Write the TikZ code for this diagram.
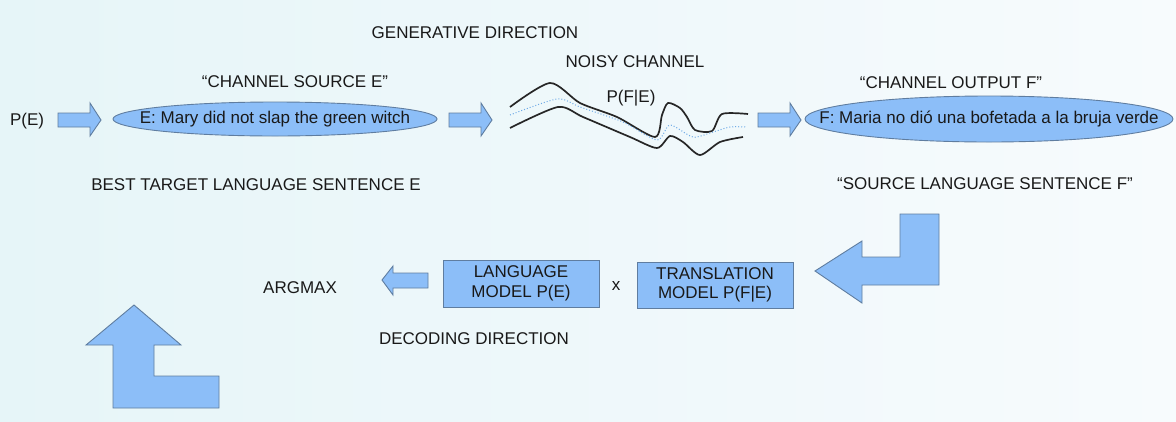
\documentclass[tikz,border=0pt]{standalone}
\usepackage{fontspec}
\setmainfont{Liberation Sans}
\usetikzlibrary{shapes.geometric}
\definecolor{bgl}{RGB}{230,245,248}
\definecolor{bgr}{RGB}{247,251,253}
\definecolor{fillb}{RGB}{140,190,248}
\definecolor{edgeb}{RGB}{95,125,160}
\definecolor{txt}{RGB}{25,25,25}
\definecolor{dotb}{RGB}{110,170,230}
\tikzset{
  lbl/.style={text=txt, font=\fontsize{17}{18}\selectfont, inner sep=0pt},
  blk/.style={fill=fillb, draw=edgeb, line width=0.9pt, line join=miter},
  ell/.style={ellipse, fill=fillb, draw=edgeb, line width=0.9pt, inner sep=0pt},
  boxn/.style={rectangle, fill=fillb, draw=edgeb, line width=0.9pt, inner sep=0pt, align=center, text=txt, font=\fontsize{17}{19.5}\selectfont},
  wave/.style={draw=black!85, line width=1.7pt, smooth, tension=0.45},
  dwave/.style={draw=dotb, line width=1pt, dotted, smooth, tension=0.45}
}
\begin{document}
\begin{tikzpicture}[x=1pt,y=-1pt]
\shade[left color=bgl, right color=bgr] (0,0) rectangle (1176,421);
\useasboundingbox (0,0) rectangle (1176,421);

% top labels
\node[lbl] (gen) at (475,33) {GENERATIVE DIRECTION};
\node[lbl] (noisy) at (635,62) {NOISY CHANNEL};
\node[lbl] (pfe) at (631,98) {P(F|E)};
\node[lbl] (cse) at (295,82) {“CHANNEL SOURCE E”};
\node[lbl] (cof) at (951,83) {“CHANNEL OUTPUT F”};
\node[lbl] (pe) at (27,121) {P(E)};
\node[lbl] (best) at (256,185) {BEST TARGET LANGUAGE SENTENCE E};
\node[lbl] (slsf) at (985,184) {“SOURCE LANGUAGE SENTENCE F”};

% ellipses
\node[ell, minimum width=324pt, minimum height=34pt] (e1) at (275,119) {};
\node[lbl] (e1t) at (e1.center) {E: Mary did not slap the green witch};
\node[ell, minimum width=368pt, minimum height=46pt] (e2) at (989,119) {};
\node[lbl] (e2t) at (e2.center) {F: Maria no dió una bofetada a la bruja verde};

% block arrows (right)
\draw[blk] (58,113) -- (90,113) -- (90,103) -- (101,120) -- (90,136) -- (90,127) -- (58,127) -- cycle;
\draw[blk] (449,113) -- (481,113) -- (481,103) -- (492,120) -- (481,136) -- (481,127) -- (449,127) -- cycle;
\draw[blk] (758,113) -- (790,113) -- (790,103) -- (801,120) -- (790,136) -- (790,127) -- (758,127) -- cycle;

% noisy channel
\draw[wave] plot coordinates {(510,107) (550,83) (580,103) (617,117) (655,137) (662,115) (668,103) (680,108) (687,117) (695,130) (712,131) (722,114) (748,114)};
\draw[wave] plot coordinates {(510,128) (558,107) (583,117) (630,137) (657,148) (670,136) (683,142) (700,155) (720,142) (743,137)};
\draw[dwave] plot coordinates {(510,115) (557,99) (580,107) (623,122) (657,140) (670,125) (693,137) (713,132) (730,127) (747,127)};

% bent arrows
\draw[blk] (815,271) -- (862,241) -- (862,257) -- (900,257) -- (900,214) -- (939,214) -- (939,285) -- (862,285) -- (862,303) -- cycle;
\draw[blk] (134,305) -- (181,345) -- (154,345) -- (154,376) -- (219,376) -- (219,408) -- (113,408) -- (113,345) -- (86,345) -- cycle;

% decoding row
\node[lbl] (argmax) at (300,288) {ARGMAX};
\draw[blk] (382,280) -- (393,266) -- (393,273) -- (428,273) -- (428,288) -- (393,288) -- (393,295) -- cycle;
\node[boxn, minimum width=156pt, minimum height=47pt] (lm) at (521,283.5) {LANGUAGE\\MODEL P(E)};
\node[lbl] (times) at (616,286) {x};
\node[boxn, minimum width=156pt, minimum height=46pt] (tm) at (715,285) {TRANSLATION\\MODEL P(F|E)};
\node[lbl] (dec) at (474,339) {DECODING DIRECTION};
\end{tikzpicture}
\end{document}
